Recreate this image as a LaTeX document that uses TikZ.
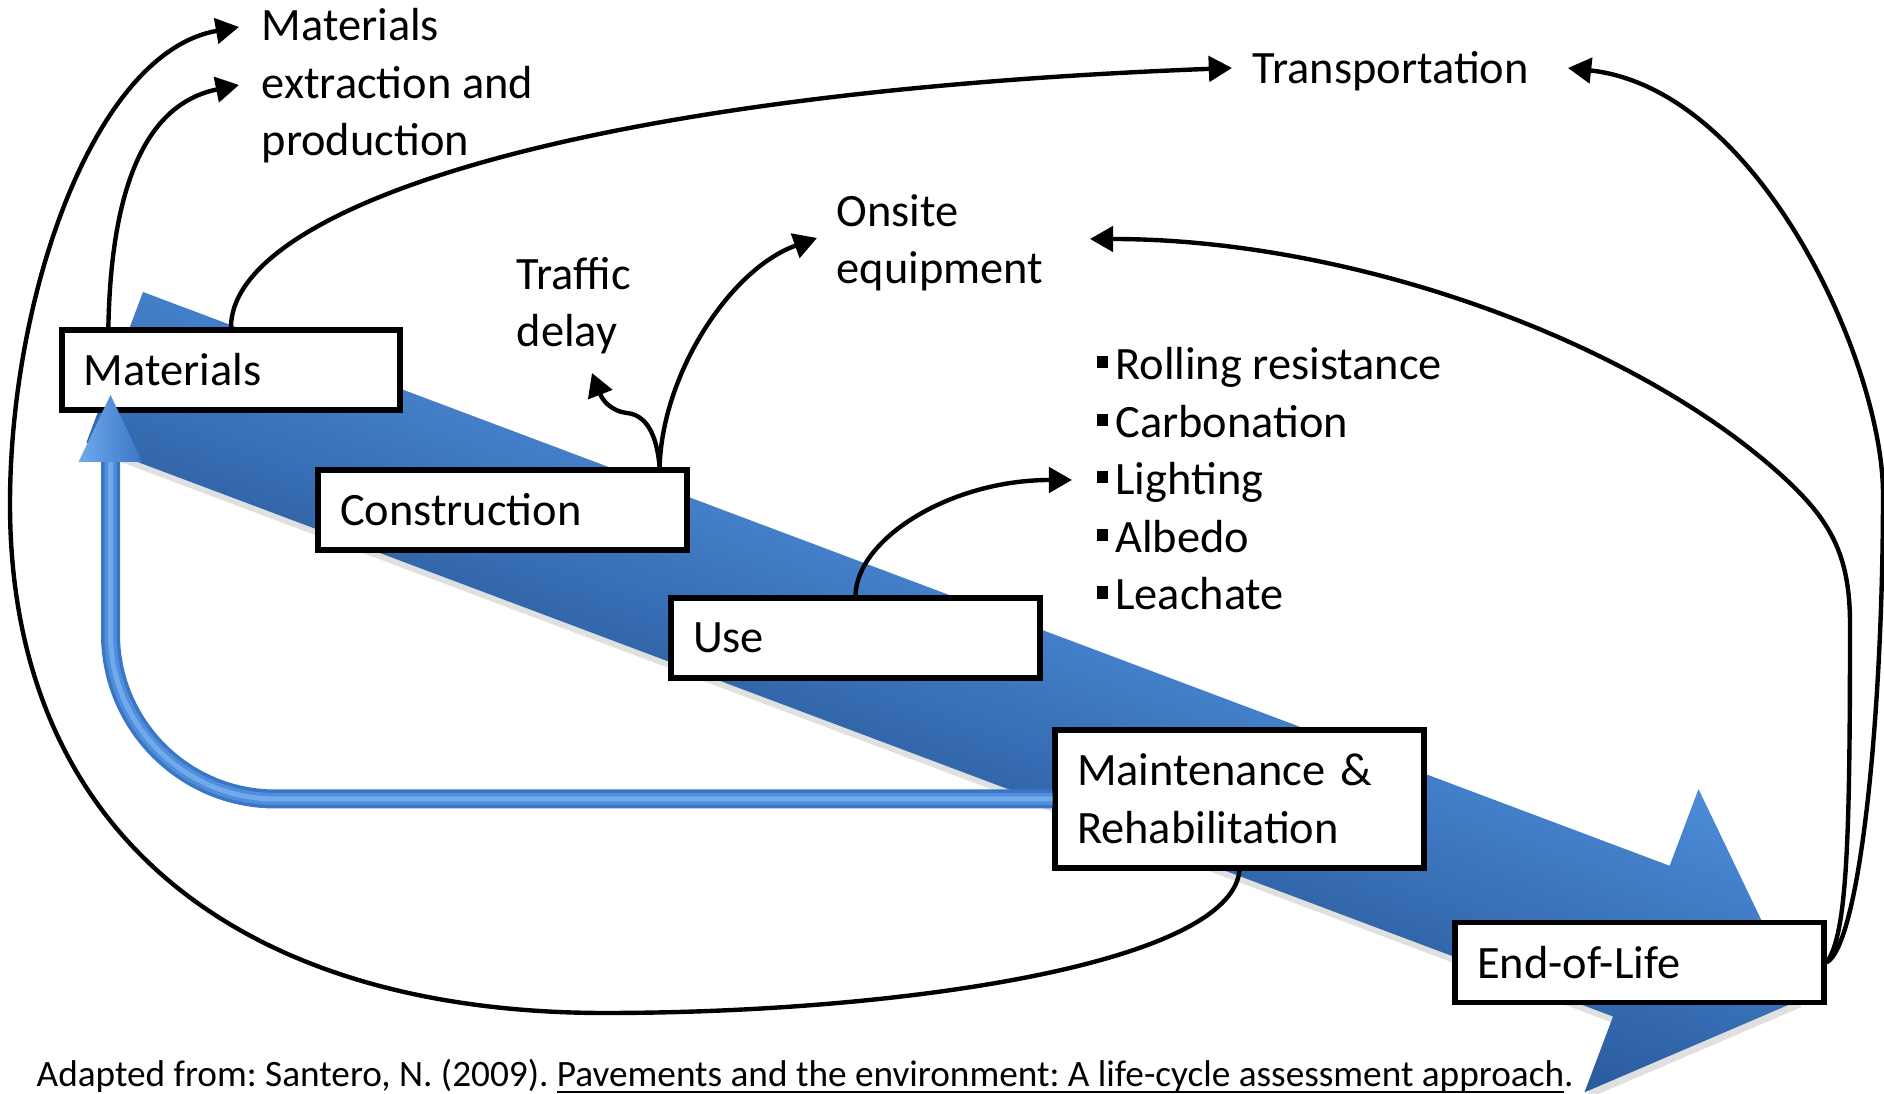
\documentclass[tikz,border=0pt]{standalone}
\usepackage{fontspec}
\setmainfont{Carlito}
\usepackage{tikz}
\usetikzlibrary{arrows.meta, calc}
\definecolor{bigtop}{RGB}{76,140,216}
\definecolor{bigbot}{RGB}{42,90,156}
\definecolor{tubeblue}{RGB}{58,118,198}
\definecolor{tubemidcol}{RGB}{80,142,220}
\definecolor{tubelight}{RGB}{112,170,236}
\tikzstyle{stage} = [rectangle, 
draw=black, 
line width=1.5pt, 
fill=white, 
minimum height=0.8cm, 
text width=3.25cm, 
inner xsep=0.22cm, 
align=left]
\tikzstyle{lbl} = [inner sep=0pt, 
anchor=base west, 
align=left]
\tikzstyle{arrow} = [line width=1.25pt, -{Triangle[length=6.6pt,width=7.2pt]}]
\tikzstyle{tube} = [line width=0.19cm, tubeblue, rounded corners=1.65cm]
\tikzstyle{tubemid} = [line width=0.12cm, tubemidcol, rounded corners=1.65cm]
\tikzstyle{tubehi} = [line width=0.05cm, tubelight, rounded corners=1.65cm]
\newcommand{\sqbullet}{\rule[3.2pt]{3.1pt}{3.5pt}\hspace{2.2pt}}

\begin{document}
\frenchspacing
\begin{tikzpicture}[font=\fontsize{13.2}{16.4}\selectfont]
\useasboundingbox (0,0) rectangle (18.84,10.94);

% the big life-cycle arrow
\begin{scope}[transform canvas={shift={(1.43,8.02)}, rotate=-20.6}]
\fill[black, opacity=0.12, shift={(0.04,-0.06)}] (0,0) -- (16.31,0) -- (16.31,0.82) -- (18,-0.8) -- (16.31,-2.42) -- (16.31,-1.61) -- (0,-1.61) -- cycle;
\shade[top color=bigtop, bottom color=bigbot] (0,0) -- (16.31,0) -- (16.31,0.82) -- (18,-0.8) -- (16.31,-2.42) -- (16.31,-1.61) -- (0,-1.61) -- cycle;
\end{scope}

% stages
\node (mat) [stage, text width=2.94cm] at (2.31,7.24) {Materials};
\node (con) [stage] at (5.025,5.84) {Construction};
\node (use) [stage] at (8.555,4.56) {Use};
\node (maint) [stage, minimum height=1.38cm] at (12.395,2.95) {Maintenance \&\\Rehabilitation};
\node (eol) [stage] at (16.395,1.315) {End-of-Life};

% labels (base = last line)
\node (mep) [lbl] at (2.61,9.38) {Materials\\extraction and\\production};
\node (trans) [lbl] at (12.52,10.10) {Transportation};
\node (ons) [lbl] at (8.36,8.10) {Onsite\\equipment};
\node (traf) [lbl] at (5.16,7.47) {Traffic\\delay};
\node (eff) [lbl] at (10.96,4.84) {\sqbullet Rolling resistance\\\sqbullet Carbonation\\\sqbullet Lighting\\\sqbullet Albedo\\\sqbullet Leachate};
\node (src) [lbl, font=\fontsize{10.6}{13}\selectfont] at (0.36,0.07) {Adapted from: Santero, N. (2009). \underline{\smash{Pavements and the environment: A life-cycle assessment approach}}.};

% feedback from M&R back to materials
\coordinate (tubetop) at (1.105,6.32);
\draw[tube] (maint.west) -| (tubetop);
\draw[tubemid] (maint.west) -| (tubetop);
\draw[tubehi] (maint.west) -| (tubetop);
\shade[left color=tubelight, right color=tubeblue] (tubetop) ++(-0.32,0) -- ++(0.32,0.67) -- ++(0.32,-0.67) -- cycle;

% arrow ends
\coordinate (matL) at ($(mat.north west)+(0.49,0)$);
\coordinate (conT) at ($(con.north east)+(-0.30,0)$);
\coordinate (mepA) at (2.39,10.67);
\coordinate (mepB) at (2.39,10.09);
\coordinate (transL) at (12.32,10.26);
\coordinate (transR) at (15.68,10.26);
\coordinate (onsL) at (8.17,8.56);
\coordinate (onsR) at (10.90,8.55);
\coordinate (trafT) at (5.92,7.21);
\coordinate (lightT) at (10.72,6.14);

\draw [arrow] (maint.south) .. controls (12.3,1.3) and (9.0,0.81) .. (6.05,0.81) .. controls (2.4,0.81) and (0.1,2.6) .. (0.1,5.9) .. controls (0.1,8.0) and (0.95,10.42) .. (mepA);
\draw [arrow] (matL) .. controls (1.116,9.35) and (1.6,9.93) .. (mepB);
\draw [arrow] (mat.north) .. controls (2.31,8.8) and (5.5,10.0) .. (transL);
\draw [arrow] (conT) .. controls (6.567,6.62) and (6.45,6.79) .. (6.27,6.81) .. controls (6.10,6.83) and (6.02,6.95) .. (trafT);
\draw [arrow] (conT) .. controls (6.62,7.2) and (7.3,8.25) .. (onsL);
\draw [arrow] (use.north) .. controls (8.567,5.55) and (9.5,6.14) .. (lightT);
\draw [arrow] (eol.east) .. controls (18.6,1.5) and (18.83,3.8) .. (18.83,6.0) .. controls (18.83,7.3) and (17.6,10.05) .. (transR);
\draw [arrow] (eol.east) .. controls (18.47,1.6) and (18.5,2.5) .. (18.5,4.7) .. controls (18.5,5.4) and (18.3,5.75) .. (17.8,6.2) .. controls (16.3,7.55) and (13.5,8.55) .. (onsR);
\end{tikzpicture}
\end{document}
